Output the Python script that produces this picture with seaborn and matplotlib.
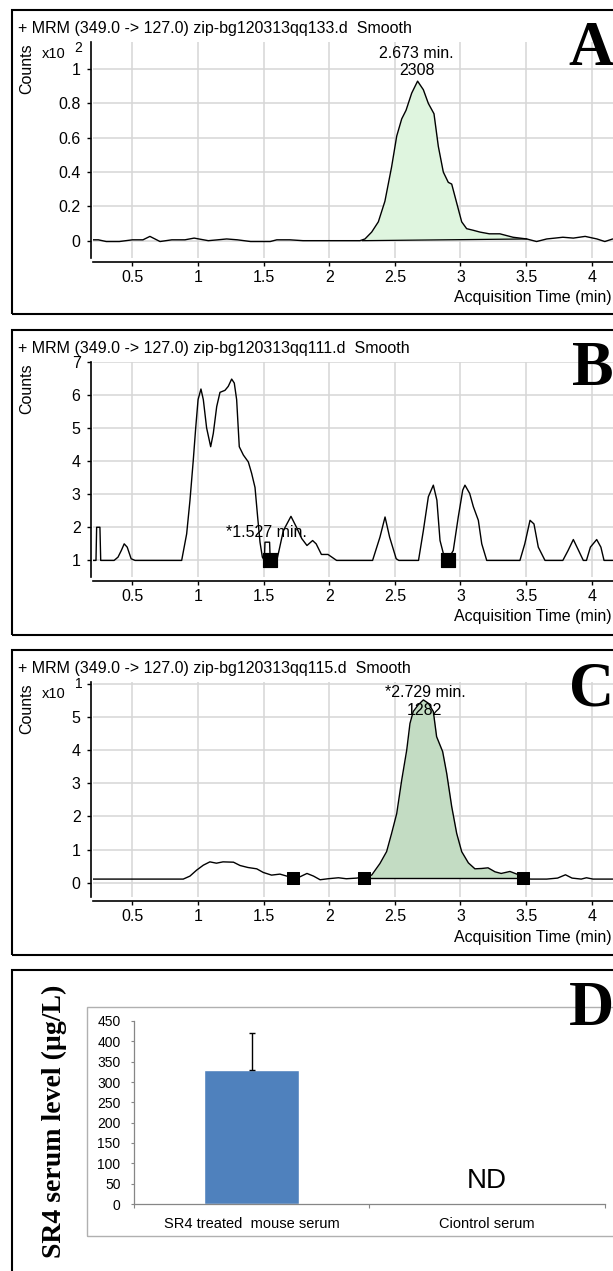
import matplotlib
matplotlib.use("Agg")
import matplotlib.pyplot as plt
from matplotlib import font_manager
from matplotlib.patches import Rectangle
import numpy as np
import seaborn as sns

# ---- panel A: sample spiked standard (counts x10^2) ----
a_time = [0.20, 0.24, 0.30, 0.40, 0.50, 0.58, 0.633, 0.71, 0.80, 0.90, 0.97, 1.078, 1.15, 1.218,
          1.30, 1.40, 1.55, 1.60, 1.70, 1.80, 1.90, 2.00, 2.10, 2.234, 2.272, 2.323, 2.374, 2.424,
          2.475, 2.514, 2.552, 2.585, 2.628, 2.673, 2.717, 2.755, 2.798, 2.831, 2.869, 2.907, 2.933,
          2.971, 3.009, 3.047, 3.10, 3.149, 3.22, 3.30, 3.40, 3.505, 3.58, 3.657, 3.72, 3.78, 3.86,
          3.95, 4.04, 4.10, 4.16]
a_counts = [0.005, 0.005, -0.005, -0.005, 0.005, 0.005, 0.025, -0.005, 0.005, 0.005, 0.015, 0.0, 0.005, 0.01,
            0.005, -0.005, -0.005, 0.005, 0.005, 0.0, 0.0, 0.0, 0.0, 0.0, 0.01, 0.05, 0.11, 0.23,
            0.43, 0.61, 0.71, 0.76, 0.86, 0.93, 0.88, 0.80, 0.74, 0.55, 0.40, 0.34, 0.33,
            0.22, 0.11, 0.07, 0.06, 0.05, 0.04, 0.04, 0.02, 0.01, -0.005, 0.01, 0.015, 0.02, 0.015,
            0.025, 0.01, -0.005, 0.01]
a_peak_start, a_peak_end = 2.25, 3.505
a_base_counts = [0.0, 0.01]

# ---- panel B: control serum ----
b_time = [0.20, 0.222, 0.227, 0.252, 0.258, 0.30, 0.36, 0.39, 0.415, 0.437, 0.46, 0.49, 0.52,
          0.875, 0.913, 0.938, 0.963, 0.982, 1.00, 1.022, 1.04, 1.065, 1.096, 1.116, 1.142, 1.167,
          1.205, 1.23, 1.256, 1.276, 1.294, 1.314, 1.345, 1.383, 1.408, 1.434, 1.454, 1.472, 1.49,
          1.505, 1.51, 1.545, 1.55, 1.60, 1.617, 1.65, 1.708, 1.75, 1.79, 1.83, 1.873, 1.90, 1.94,
          1.99, 2.056, 2.33, 2.386, 2.425, 2.46, 2.51, 2.53, 2.68, 2.717, 2.755, 2.793, 2.82, 2.844,
          2.87, 2.90, 2.945, 2.983, 3.017, 3.034, 3.07, 3.098, 3.136, 3.162, 3.20, 3.453, 3.49,
          3.53, 3.56, 3.593, 3.644, 3.78, 3.82, 3.86, 3.90, 3.936, 3.96, 3.99, 4.038, 4.07, 4.094, 4.16]
b_counts = [1.0, 1.0, 2.0, 2.0, 1.0, 1.0, 1.0, 1.1, 1.3, 1.5, 1.4, 1.05, 1.0,
            1.0, 1.8, 2.8, 4.0, 5.0, 5.85, 6.17, 5.85, 5.0, 4.43, 4.83, 5.64, 6.07,
            6.13, 6.25, 6.47, 6.35, 5.85, 4.43, 4.18, 3.97, 3.63, 3.2, 2.31, 1.55, 1.1,
            1.0, 1.55, 1.55, 1.0, 1.0, 1.3, 1.9, 2.33, 2.0, 1.66, 1.45, 1.6, 1.5, 1.18,
            1.18, 1.0, 1.0, 1.7, 2.31, 1.7, 1.05, 1.0, 1.0, 1.9, 2.92, 3.27, 2.82, 1.6,
            1.2, 1.0, 1.3, 2.31, 3.12, 3.27, 3.02, 2.62, 2.21, 1.5, 1.0, 1.0, 1.5,
            2.21, 2.1, 1.4, 1.0, 1.0, 1.3, 1.63, 1.3, 1.0, 1.0, 1.4, 1.63, 1.4, 1.0, 1.0]
b_mark_time = [1.548, 2.905]
b_mark_counts = [1.0, 1.0]

# ---- panel C: SR4 treated mouse serum (counts x10^1) ----
c_time = [0.20, 0.887, 0.938, 0.989, 1.04, 1.09, 1.14, 1.19, 1.27, 1.32, 1.38, 1.447, 1.497, 1.56,
          1.624, 1.72, 1.777, 1.83, 1.88, 1.93, 1.99, 2.07, 2.13, 2.21, 2.268, 2.323, 2.386, 2.437,
          2.475, 2.514, 2.552, 2.59, 2.615, 2.64, 2.678, 2.717, 2.755, 2.793, 2.818, 2.864, 2.895,
          2.933, 2.971, 3.009, 3.06, 3.11, 3.16, 3.21, 3.263, 3.31, 3.377, 3.43, 3.479, 3.54, 3.657,
          3.74, 3.80, 3.85, 3.92, 3.96, 4.01, 4.16]
c_counts = [0.11, 0.11, 0.2, 0.38, 0.53, 0.63, 0.59, 0.63, 0.62, 0.52, 0.46, 0.42, 0.31, 0.23,
            0.26, 0.15, 0.18, 0.28, 0.2, 0.09, 0.12, 0.15, 0.12, 0.14, 0.18, 0.23, 0.58, 0.94,
            1.49, 2.09, 3.1, 4.0, 4.81, 5.17, 5.37, 5.52, 5.42, 5.17, 4.41, 3.96, 3.3,
            2.3, 1.49, 0.94, 0.6, 0.42, 0.43, 0.45, 0.33, 0.28, 0.34, 0.26, 0.12, 0.11, 0.11,
            0.14, 0.24, 0.14, 0.11, 0.15, 0.11, 0.11]
c_mark_time = [1.72, 2.268, 3.479]
c_mark_counts = [0.15, 0.15, 0.15]

x_ticks = [0.5, 1, 1.5, 2, 2.5, 3, 3.5, 4]
x_tick_labels = ["0.5", "1", "1.5", "2", "2.5", "3", "3.5", "4"]

# ---- panel D: serum level ----
categories = ["SR4 treated  mouse serum", "Ciontrol serum"]
levels = [330, 0]
level_err = [90, 0]

W, H = 613, 1271
sns.set_style("white")
installed = {f.name for f in font_manager.fontManager.ttflist}


def pick(*names):
    for n in names:
        if n in installed:
            return n
    return "DejaVu Sans"


SANS = pick("Liberation Sans", "Arial")
SERIF = pick("Liberation Serif", "Times New Roman", "DejaVu Serif")
plt.rcParams["font.family"] = [SANS, "DejaVu Sans"]
plt.rcParams.update({"text.color": "black", "axes.labelcolor": "black",
                     "xtick.color": "black", "ytick.color": "black",
                     "xtick.labelcolor": "black", "ytick.labelcolor": "black"})
FS = 11.5


def rect(l, t, r, b):
    return [l / W, 1 - b / H, (r - l) / W, (b - t) / H]


def ftext(x, y, s, **kw):
    return fig.text(x / W, 1 - y / H, s, **kw)


def box(l, t, r, b, **kw):
    fig.add_artist(Rectangle((l / W, 1 - b / H), (r - l) / W, (b - t) / H,
                             transform=fig.transFigure, fill=False, **kw))


def chromatogram(top, bottom, time, counts, ylim, yticks, yticklabels):
    ax = fig.add_axes(rect(93.1, top, 613, bottom))
    sns.lineplot(x=time, y=counts, ax=ax, color="black", lw=1.0,
                 estimator=None, sort=False, zorder=4)
    ax.set_xlim(0.2, 4.1623)
    ax.set_ylim(*ylim)
    ax.set_xticks(x_ticks)
    ax.set_xticklabels(x_tick_labels)
    ax.set_yticks(yticks)
    ax.set_yticklabels(yticklabels)
    ax.grid(True, color="#d6d6d6", lw=1.1)
    ax.set_axisbelow(True)
    sns.despine(ax=ax, offset={"left": 1.5, "bottom": 3})
    for s in ("left", "bottom"):
        ax.spines[s].set_color("black")
        ax.spines[s].set_linewidth(1.2)
    ax.tick_params(axis="y", left=True, length=3, width=1, pad=4.5, labelsize=FS, color="black")
    ax.tick_params(axis="x", bottom=True, length=3, width=1, pad=2.5, labelsize=FS, color="black")
    ax.set_xlabel("")
    ax.set_ylabel("")
    return ax


fig = plt.figure(figsize=(W / 100, H / 100), dpi=100)

# panel frames
box(11.7, 10, 650, 314, lw=1.5, ec="black")
box(11.7, 330, 650, 635, lw=1.5, ec="black")
box(11.7, 650, 650, 955, lw=1.5, ec="black")
box(12, 970, 650, 1300, lw=1.5, ec="black")

for top, name, letter, axis_y in [(10, "133", "A", 262), (330, "111", "B", 581), (650, "115", "C", 901.7)]:
    ftext(17.6, top + 23.3, "+ MRM (349.0 -> 127.0) zip-bg120313qq%s.d  Smooth" % name,
          fontsize=FS, ha="left", va="baseline")
    ftext(27, top + 59, "Counts", rotation=90, fontsize=FS, ha="center", va="center")
    ftext(614, top + 55, letter, family=SERIF, fontweight="bold", fontsize=45,
          ha="right", va="baseline")
    ftext(612, axis_y + 40, "Acquisition Time (min)", fontsize=FS, ha="right", va="baseline")

# A
axa = chromatogram(41.7, 258, a_time, a_counts, (-0.101, 1.160),
                   [0, 0.2, 0.4, 0.6, 0.8, 1.0], ["0", "0.2", "0.4", "0.6", "0.8", "1"])
ta = np.array(a_time)
sel = (ta >= a_peak_start) & (ta <= a_peak_end)
pa_t = np.concatenate([[a_peak_start], ta[sel], [a_peak_end]])
pa_v = np.interp(pa_t, a_time, a_counts)
pa_base = np.interp(pa_t, [a_peak_start, a_peak_end], a_base_counts)
axa.fill_between(pa_t, pa_base, pa_v, color="#dff5df", lw=0, zorder=2)
sns.lineplot(x=[a_peak_start, a_peak_end], y=a_base_counts, ax=axa, color="black", lw=0.9, zorder=3)
axa.text(2.667, 1.063, "2.673 min.", fontsize=FS, ha="center", va="baseline")
axa.text(2.667, 0.966, "2308", fontsize=FS, ha="center", va="baseline")
ftext(42, 58.3, "x10", fontsize=10.5, ha="left", va="baseline")
ftext(74, 52, "2", fontsize=10, ha="left", va="baseline")

# B
axb = chromatogram(361.5, 577, b_time, b_counts, (0.5, 7.0),
                   [1, 2, 3, 4, 5, 6, 7], ["1", "2", "3", "4", "5", "6", "7"])
sns.scatterplot(x=b_mark_time, y=b_mark_counts, ax=axb, marker="s", s=110, color="black",
                edgecolor="black", zorder=5)
axb.text(1.52, 1.72, "*1.527 min.", fontsize=FS, ha="center", va="baseline", zorder=6)

# C
axc = chromatogram(681.7, 897.3, c_time, c_counts, (-0.44, 6.07),
                   [0, 1, 2, 3, 4, 5, 6], ["0", "1", "2", "3", "4", "5", ""])
tc = np.array(c_time)
sel = (tc >= c_mark_time[1]) & (tc <= c_mark_time[2])
pc_t = tc[sel]
pc_v = np.array(c_counts)[sel]
pc_base = np.interp(pc_t, c_mark_time[1:], c_mark_counts[1:])
axc.fill_between(pc_t, pc_base, np.maximum(pc_v, pc_base), color="#c3dcc3", lw=0, zorder=2)
sns.lineplot(x=c_mark_time[1:], y=c_mark_counts[1:], ax=axc, color="black", lw=1.0, zorder=3)
sns.scatterplot(x=c_mark_time, y=c_mark_counts, ax=axc, marker="s", s=85, color="black",
                edgecolor="black", zorder=5)
axc.text(2.729, 5.62, "*2.729 min.", fontsize=FS, ha="center", va="baseline", zorder=6)
axc.text(2.729, 5.07, "1282", fontsize=FS, ha="center", va="baseline", zorder=6)
ftext(42, 698.3, "x10", fontsize=10.5, ha="left", va="baseline")
ftext(75, 688, "1", fontsize=10, ha="left", va="baseline")

# D
box(86.8, 1006.7, 640, 1236, lw=1.0, ec="#b0b0b0")
axd = fig.add_axes(rect(133.7, 1021, 605, 1204))
sns.barplot(x=categories, y=levels, ax=axd, color="#4f81bd", width=0.4, saturation=1,
            errorbar=None)
pos = np.arange(len(categories))
has_err = np.array(level_err) > 0
axd.errorbar(pos[has_err], np.array(levels)[has_err],
             yerr=[np.zeros(has_err.sum()), np.array(level_err)[has_err]],
             fmt="none", ecolor="black", elinewidth=1.0, capsize=2.5, capthick=1.0)
axd.set_xlim(-0.5, 1.5)
axd.set_ylim(0, 450)
axd.set_yticks(range(0, 451, 50))
axd.set_xticks(pos)
axd.set_xticks([-0.5, 0.5, 1.5], minor=True)
axd.set_xticklabels(categories)
sns.despine(ax=axd)
for s in ("left", "bottom"):
    axd.spines[s].set_color("#868686")
    axd.spines[s].set_linewidth(0.9)
axd.tick_params(axis="y", left=True, length=2.5, width=0.8, color="#868686", pad=7, labelsize=10)
axd.tick_params(axis="x", which="major", bottom=True, length=0, pad=9, labelsize=10.5)
axd.tick_params(axis="x", which="minor", bottom=True, length=3, width=0.8, color="#868686")
axd.set_xlabel("")
axd.set_ylabel("")
axd.text(1, 57, "ND", fontsize=20, ha="center", va="center")
ftext(54, 1121, "SR4 serum level (µg/L)", family=SERIF, fontweight="bold", fontsize=20,
      rotation=90, ha="center", va="center")
ftext(614, 1025, "D", family=SERIF, fontweight="bold", fontsize=45, ha="right", va="baseline")

fig.savefig("out.png", dpi=100)
